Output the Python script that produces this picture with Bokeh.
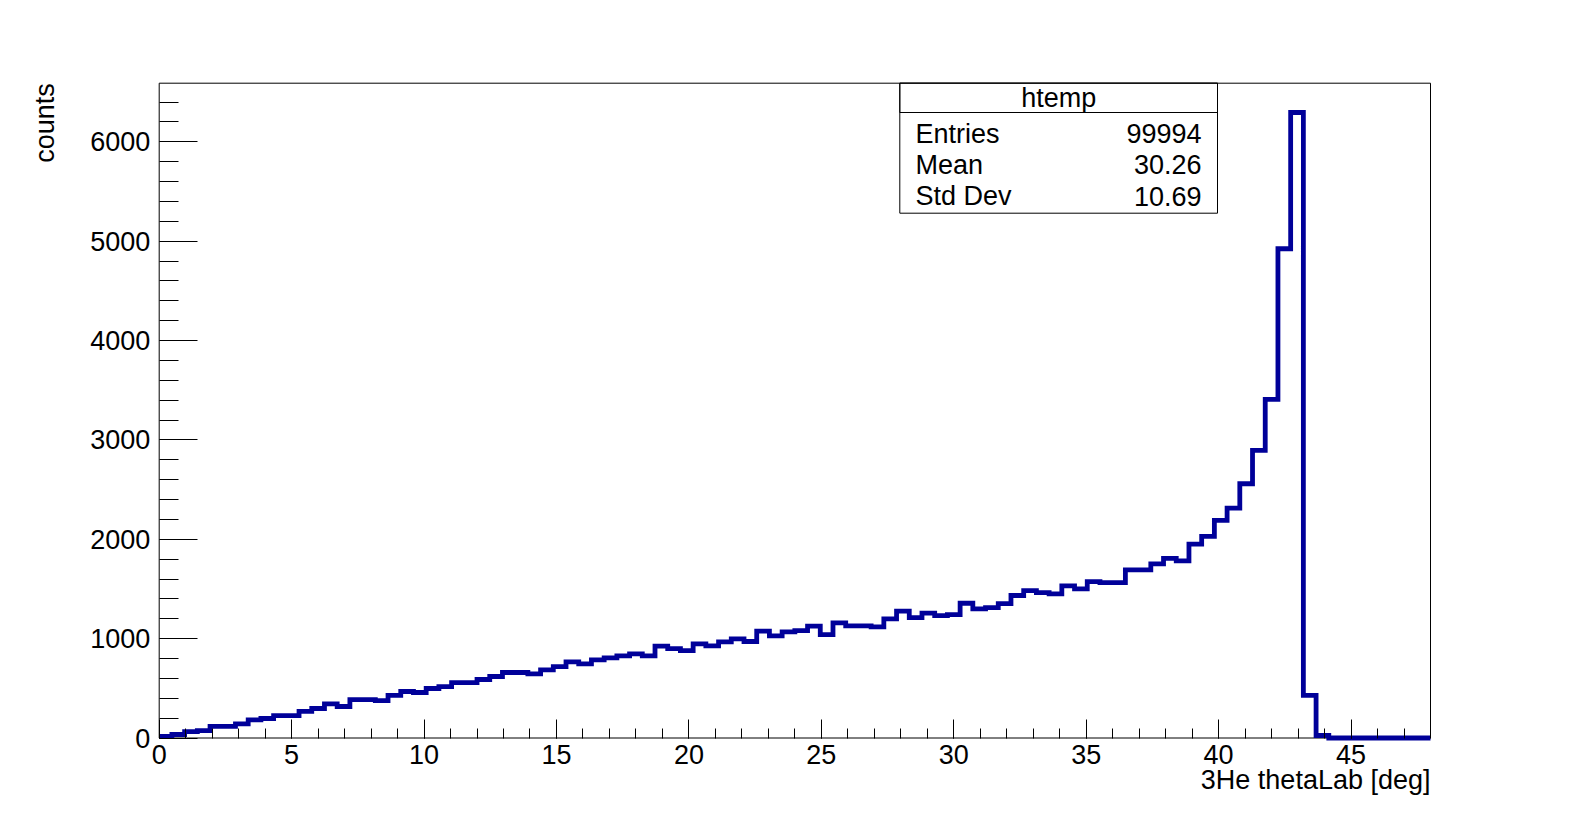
import numpy as np
from bokeh.plotting import figure
from bokeh.models import Range1d, FixedTicker, Label, BoxAnnotation, LinearAxis
from bokeh.embed import file_html
from bokeh.resources import INLINE

# ---------------- data ----------------
x_min, x_max, n_bins = 0.0, 48.0, 100
counts = [
    15, 35, 65, 75, 116, 116, 143, 183, 196, 226,
    226, 267, 297, 344, 317, 387, 387, 377, 428, 468,
    458, 498, 518, 558, 558, 589, 619, 659, 659, 646,
    686, 719, 766, 746, 786, 807, 827, 847, 827, 924,
    900, 880, 947, 927, 967, 998, 971, 1075, 1028, 1068,
    1081, 1125, 1041, 1159, 1128, 1128, 1118, 1199, 1276, 1212,
    1256, 1232, 1242, 1356, 1299, 1313, 1353, 1434, 1484, 1464,
    1450, 1531, 1501, 1574, 1564, 1564, 1692, 1692, 1753, 1808,
    1783, 1952, 2029, 2190, 2313, 2559, 2895, 3408, 4924, 6295,
    429, 25, 0, 0, 0, 0, 0, 0, 0, 0,
]
y_max = 6590
x_major_step, x_minor_step = 5, 1
y_major_step, y_minor_step = 1000, 200
x_title = "3He thetaLab [deg]"
y_title = "counts"
stats_title = "htemp"
stat_names = ["Entries", "Mean", "Std Dev"]
stat_values = ["99994", "30.26", "10.69"]

# ---------------- layout (pixels on the canvas) ----------------
W, H = 1570, 806
FL, FT, FR, FB = 158.7, 82.7, 1430.0, 737.5   # plot frame edges
FONT = "Liberation Sans"
FS = "27px"
LINE_COLOR = "#000099"

ppx = (FR - FL) / (x_max - x_min)      # pixels per degree
ppy = (FB - FT) / y_max                # pixels per count


def dx(px):
    return x_min + (px - FL) / ppx


def dy(py):
    return (FB - py) / ppy


p = figure(width=W, height=H, output_backend="svg", toolbar_location=None,
           x_axis_type=None, y_axis_type=None,
           x_range=Range1d(dx(0), dx(W)), y_range=Range1d(dy(H), dy(0)),
           min_border_left=0, min_border_right=0,
           min_border_top=0, min_border_bottom=0)
p.background_fill_color = "white"
p.border_fill_color = "white"
p.outline_line_color = None
p.xgrid.visible = False
p.ygrid.visible = False

# plot frame
p.add_layout(BoxAnnotation(left=x_min, right=x_max, bottom=0, top=y_max,
                           fill_alpha=0.0, line_color="black", line_alpha=1.0,
                           line_width=1, level="underlay"))

# histogram outline
edges = np.linspace(x_min, x_max, n_bins + 1)
hx = np.repeat(edges, 2)[1:-1]
hy = np.repeat(np.array(counts, dtype=float), 2)
p.line(hx, hy, line_color=LINE_COLOR, line_width=4.8, line_join="miter")

# axes fixed on the frame edges
xaxis = LinearAxis(fixed_location=0,
                   ticker=FixedTicker(ticks=list(np.arange(x_min, x_max + 1e-9, x_major_step)),
                                      minor_ticks=list(np.arange(x_min, x_max + 1e-9, x_minor_step))))
yaxis = LinearAxis(fixed_location=x_min,
                   ticker=FixedTicker(ticks=list(np.arange(0, y_max, y_major_step)),
                                      minor_ticks=list(np.arange(0, y_max, y_minor_step))))
for ax in (xaxis, yaxis):
    ax.axis_line_color = None
    ax.major_tick_line_color = "black"
    ax.minor_tick_line_color = "black"
    ax.major_tick_out = 0
    ax.minor_tick_out = 0
    ax.major_label_text_font = FONT
    ax.major_label_text_font_size = FS
    ax.major_label_text_color = "black"
xaxis.major_tick_in = 19
xaxis.minor_tick_in = 10
xaxis.major_label_standoff = 7
yaxis.major_tick_in = 38
yaxis.minor_tick_in = 19
yaxis.major_label_standoff = 9
p.add_layout(xaxis, "below")
p.add_layout(yaxis, "left")


def text_label(x, y, text, align, angle=0.0):
    return Label(x=x, y=y, text=text, text_font=FONT, text_font_size=FS,
                 text_align=align, text_baseline="middle", angle=angle,
                 text_color="black")


# axis titles
p.add_layout(text_label(x_max, dy(779), x_title, "right"))
p.add_layout(text_label(dx(44.5), y_max, y_title, "right", angle=np.pi / 2))

# stats box
box_l, box_r, box_b, box_sep = dx(899.3), dx(1217.0), dy(212.7), dy(112.0)
p.add_layout(BoxAnnotation(left=box_l, right=box_r, bottom=box_b, top=y_max,
                           fill_color="white", fill_alpha=1.0,
                           line_color="black", line_alpha=1.0, line_width=1,
                           level="annotation"))
p.add_layout(BoxAnnotation(left=box_l, right=box_r, bottom=box_sep, top=y_max,
                           fill_alpha=0.0, line_color="black", line_alpha=1.0,
                           line_width=1, level="annotation"))
p.add_layout(text_label((box_l + box_r) / 2, dy(97.0), stats_title, "center"))
row_mid = [133.0, 164.0, 195.5]
for name, val, ym in zip(stat_names, stat_values, row_mid):
    p.add_layout(text_label(dx(915), dy(ym), name, "left"))
    p.add_layout(text_label(dx(1201), dy(ym), val, "right"))

open("out.html", "w").write(file_html(p, INLINE))
